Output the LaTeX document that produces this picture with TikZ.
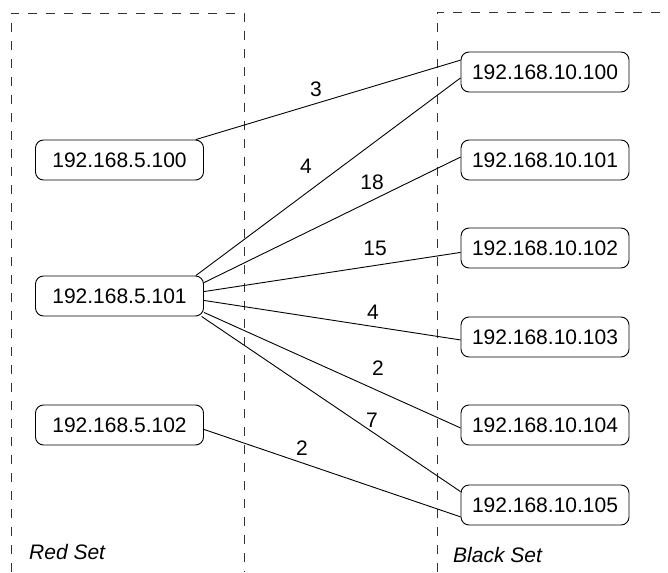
\documentclass[tikz,border=0pt]{standalone}
\usepackage{fontspec}
\setmainfont{Liberation Sans}
\usepackage{tikz}
\usetikzlibrary{positioning}

\begin{document}
\begin{tikzpicture}[x=1pt, y=-1pt,
    host/.style={draw, rounded corners=8pt, minimum width=168pt, minimum height=40pt,
      inner sep=0pt, line width=0.9pt, font=\fontsize{21}{25}\selectfont},
    wt/.style={inner sep=0pt, font=\fontsize{21}{25}\selectfont},
    link/.style={line width=0.9pt},
    setline/.style={dash pattern=on 9pt off 9pt, line width=0.9pt, black!80}]
        \useasboundingbox (0,0) rectangle (668,572);
        % Set borders
        \draw[setline] (11,572) -- (11,13) -- (244,13) -- (244,572);
        \draw[setline] (437,572) -- (437,12) -- (668,12);
        % Red hosts
        \node[host] (r0) at (119.5,160) {192.168.5.100};
        \node[host] (r1) at (119.5,296) {192.168.5.101};
        \node[host] (r2) at (119.5,425) {192.168.5.102};
        % Black hosts
        \foreach \i/\y in {0/72,1/160,2/248,3/337,4/425,5/505}
          \node[host] (b\i) at (545,\y) {192.168.10.10\i};
        % Links
        \draw[link] (r0.15) -- (b0.172);
        \draw[link] (r1.15) -- (b0.184);
        \draw[link] (r1.9) -- (b1.178);
        \draw[link] (r1.3) -- (b2.183);
        \draw[link] (r1.-3) -- (b3.182);
        \draw[link] (r1.-11) -- (b4.182);
        \draw[link] (r1.-14.5) -- (b5.171);
        \draw[link] (r2.-3) -- (b5.188);
        % Weights
        \node[wt] (w0) at (316,89) {3};
        \node[wt] (w1) at (306,166) {4};
        \node[wt] (w2) at (372,182) {18};
        \node[wt] (w3) at (375,248) {15};
        \node[wt] (w4) at (373,312) {4};
        \node[wt] (w5) at (378,368) {2};
        \node[wt] (w6) at (372,420) {7};
        \node[wt] (w7) at (302,448) {2};
        % Set names
        \node[wt, font=\fontsize{21}{25}\selectfont\itshape, anchor=west] (redset) at (29,552) {Red Set};
        \node[wt, font=\fontsize{21}{25}\selectfont\itshape, anchor=west] (blackset) at (453,555) {Black Set};
      \end{tikzpicture}
\end{document}
